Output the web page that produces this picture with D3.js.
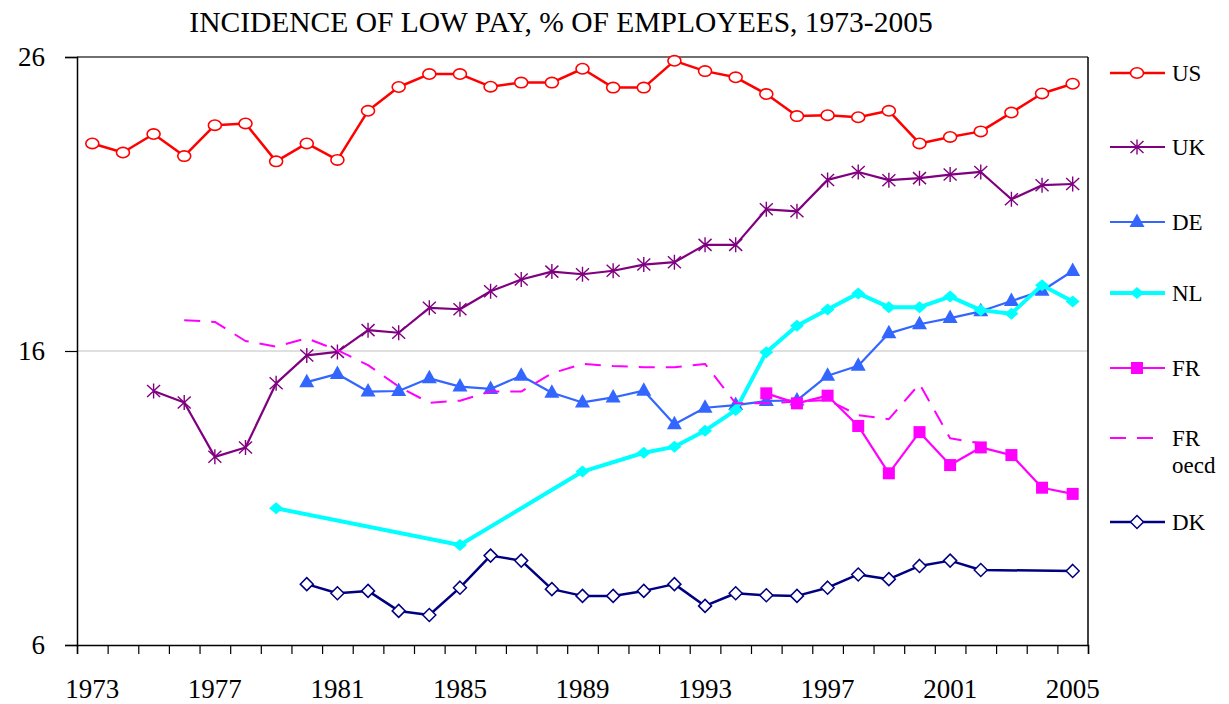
<!DOCTYPE html>
<html>
<head>
<meta charset="utf-8">
<script src="https://cdn.jsdelivr.net/npm/d3@7"></script>
<style>
  body { margin: 0; background: #fff; }
</style>
</head>
<body>
<div id="chart"></div>
<script>
// values, one entry per year 1973..2005 (null = no data)
var years = d3.range(1973, 2006);
var xLabels = [1973, 1977, 1981, 1985, 1989, 1993, 1997, 2001, 2005];
var yTicks = [6, 16, 26];

var us = [23.06,22.75,23.38,22.63,23.68,23.74,22.45,23.06,22.50,24.17,24.98,25.42,25.42,24.99,25.13,25.13,25.60,24.96,24.96,25.87,25.52,25.31,24.74,23.99,24.02,23.95,24.17,23.06,23.28,23.47,24.11,24.76,25.09];
var uk = [null,null,14.64,14.25,12.40,12.72,14.90,15.85,15.97,16.71,16.62,17.47,17.42,18.03,18.43,18.70,18.61,18.73,18.94,19.02,19.61,19.61,20.82,20.75,21.82,22.09,21.81,21.88,22.00,22.09,21.16,21.64,21.68];
var de = [null,null,null,null,null,null,null,14.94,15.22,14.62,14.64,15.07,14.79,14.71,15.16,14.58,14.25,14.42,14.65,13.51,14.07,14.16,14.30,14.32,15.16,15.50,16.60,16.91,17.12,17.35,17.70,18.05,18.72];
var nl = [null,null,null,null,null,null,10.65,null,null,null,null,null,9.40,null,null,null,11.90,null,12.54,12.74,13.29,13.99,15.96,16.86,17.41,17.96,17.49,17.49,17.85,17.39,17.27,18.24,17.68];
var fr = [null,null,null,null,null,null,null,null,null,null,null,null,null,null,null,null,null,null,null,null,null,null,14.56,14.22,14.48,13.45,11.84,13.24,12.12,12.72,12.46,11.35,11.14];
var frOecd = [null,null,null,17.05,16.99,16.34,16.15,16.43,16.03,15.52,14.79,14.24,14.31,14.62,14.62,15.24,15.56,15.49,15.45,15.45,15.56,14.22,14.22,14.28,14.33,13.82,13.68,14.88,13.03,12.86,null,null,null];
var dk = [null,null,null,null,null,null,null,8.07,7.76,7.84,7.16,7.02,7.95,9.04,8.87,7.90,7.67,7.67,7.84,8.07,7.33,7.76,7.69,7.67,7.95,8.40,8.24,8.69,8.87,8.55,null,null,8.52];

var FONT = "'Liberation Serif', 'Times New Roman', serif";

var W = 1229, H = 704;
var margin = {top: 57, right: 141, bottom: 59, left: 77};
var width = W - margin.left - margin.right,
    height = H - margin.top - margin.bottom;

var svg = d3.select("#chart").append("svg")
    .attr("width", W).attr("height", H)
    .style("font-family", FONT);

svg.append("text")
    .attr("x", 561).attr("y", 32)
    .attr("text-anchor", "middle")
    .style("font-family", FONT)
    .style("font-size", "29.5px")
    .text("INCIDENCE OF LOW PAY, % OF EMPLOYEES, 1973-2005");

var g = svg.append("g")
    .attr("transform", "translate(" + margin.left + "," + margin.top + ")");

var x = d3.scaleLinear().domain([1972.5, 2005.5]).range([0, width]);
var y = d3.scaleLinear().domain([6, 26]).range([height, 0]);

// gridlines
g.append("line")
    .attr("x1", 0).attr("x2", width)
    .attr("y1", y(16)).attr("y2", y(16))
    .attr("stroke", "#c0c0c0").attr("stroke-width", 1);
g.append("line")
    .attr("x1", 0).attr("x2", width)
    .attr("y1", y(26)).attr("y2", y(26))
    .attr("stroke", "#707070").attr("stroke-width", 2);
// right frame
g.append("line")
    .attr("x1", width).attr("x2", width)
    .attr("y1", 0).attr("y2", height)
    .attr("stroke", "#000").attr("stroke-width", 1.5);

// x axis: ticks between years, labels every 4 years
var xAxis = g.append("g").attr("transform", "translate(0," + height + ")");
xAxis.call(d3.axisBottom(x)
      .tickValues(d3.range(0, 34).map(function(i) { return 1972.5 + i; }))
      .tickSize(9).tickFormat(""));
xAxis.select(".domain").attr("stroke-width", 1.5);
xAxis.selectAll(".tick line").attr("stroke-width", 1.2);
xAxis.selectAll(".lbl").data(xLabels).enter().append("text")
    .attr("class", "lbl")
    .attr("x", function(d) { return x(d); })
    .attr("y", 53)
    .attr("text-anchor", "middle")
    .attr("fill", "#000")
    .style("font-family", FONT)
    .style("font-size", "27px")
    .text(function(d) { return d; });

// y axis
var yAxis = g.append("g");
yAxis.call(d3.axisLeft(y).tickValues(yTicks).tickSize(12).tickPadding(20));
yAxis.select(".domain").attr("stroke-width", 1.5);
yAxis.selectAll(".tick line").attr("stroke-width", 1.2);
yAxis.selectAll(".tick text")
    .style("font-size", "27px")
    .style("font-family", FONT)
    .attr("fill", "#000");

function pts(vals) {
  var out = [];
  vals.forEach(function(v, i) { if (v != null) out.push({yr: years[i], v: v}); });
  return out;
}

var line = d3.line()
    .x(function(d) { return x(d.yr); })
    .y(function(d) { return y(d.v); });

var series = [
  {name: "US", vals: us, color: "#ff0000", w: 2.5, marker: "circle"},
  {name: "UK", vals: uk, color: "#800080", w: 2.2, marker: "star"},
  {name: "DE", vals: de, color: "#3366ff", w: 2.2, marker: "tri"},
  {name: "NL", vals: nl, color: "#00ffff", w: 4, marker: "dia"},
  {name: "FR", vals: fr, color: "#ff00ff", w: 2.2, marker: "sq"},
  {name: "FR oecd", vals: frOecd, color: "#ff00ff", w: 2, marker: null, dash: "16,11"},
  {name: "DK", vals: dk, color: "#000080", w: 2.5, marker: "odia"}
];

function drawMarker(sel, type, color) {
  if (type === "circle") {
    sel.append("ellipse").attr("rx", 6.5).attr("ry", 5.2)
      .attr("fill", "#fff").attr("stroke", color).attr("stroke-width", 1.6);
  } else if (type === "star") {
    sel.append("path").attr("d", "M0,-7.5L0,7.5M-6.5,-6L6.5,6M-6.5,6L6.5,-6")
      .attr("stroke", color).attr("stroke-width", 1.4);
  } else if (type === "tri") {
    sel.append("path").attr("d", "M0,-8.5L7.5,5L-7.5,5Z").attr("fill", color);
  } else if (type === "dia") {
    sel.append("path").attr("d", "M0,-6L7,0L0,6L-7,0Z").attr("fill", color);
  } else if (type === "sq") {
    sel.append("rect").attr("x", -6).attr("y", -6).attr("width", 12).attr("height", 12)
      .attr("fill", color);
  } else if (type === "odia") {
    sel.append("path").attr("d", "M0,-6.5L6.5,0L0,6.5L-6.5,0Z")
      .attr("fill", "#fff").attr("stroke", color).attr("stroke-width", 1.5);
  }
}

series.forEach(function(s) {
  var data = pts(s.vals);
  g.append("path")
    .datum(data)
    .attr("d", line)
    .attr("fill", "none")
    .attr("stroke", s.color)
    .attr("stroke-width", s.w)
    .attr("stroke-linejoin", "round")
    .attr("stroke-dasharray", s.dash || null);
  if (s.marker) {
    g.selectAll(null).data(data).enter().append("g")
      .attr("transform", function(d) { return "translate(" + x(d.yr) + "," + y(d.v) + ")"; })
      .each(function() { drawMarker(d3.select(this), s.marker, s.color); });
  }
});

// legend
var legY = [73, 147, 222, 293, 368, 438, 522];
var leg = svg.append("g");
series.forEach(function(s, i) {
  var it = leg.append("g").attr("transform", "translate(1110," + legY[i] + ")");
  it.append("line").attr("x1", 0).attr("x2", s.dash ? 45 : 55).attr("y1", 0).attr("y2", 0)
    .attr("stroke", s.color).attr("stroke-width", s.w)
    .attr("stroke-dasharray", s.dash || null);
  if (s.marker) {
    var m = it.append("g").attr("transform", "translate(27,0)");
    drawMarker(m, s.marker, s.color);
  }
  var parts = s.name.split(" ");
  parts.forEach(function(p, j) {
    it.append("text").attr("x", 62).attr("y", 8 + j * 27)
      .attr("fill", "#000")
      .style("font-family", FONT)
      .style("font-size", "23px").text(p);
  });
});
</script>
</body>
</html>
